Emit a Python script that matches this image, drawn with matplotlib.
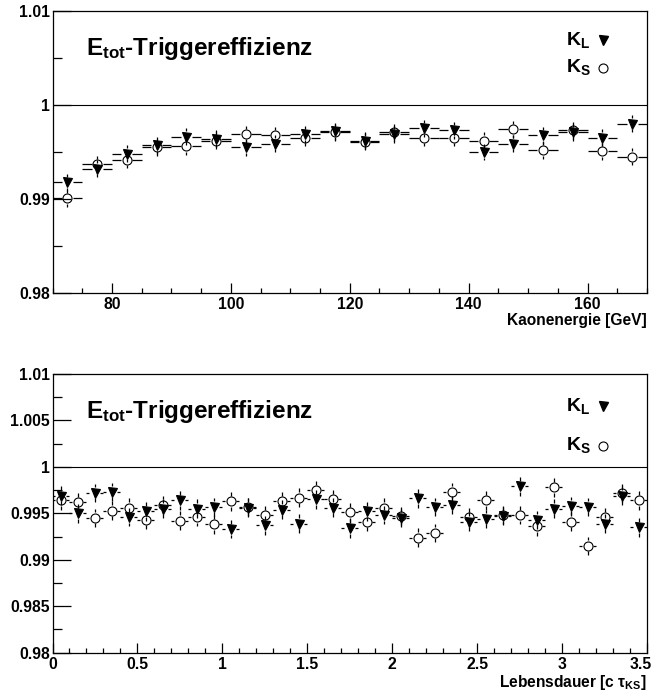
import matplotlib
matplotlib.use("Agg")
import matplotlib.pyplot as plt
from matplotlib.collections import LineCollection
from matplotlib.ticker import MultipleLocator, FuncFormatter
from matplotlib.transforms import ScaledTranslation, blended_transform_factory

plt.rcParams['font.family'] = ['Liberation Sans', 'DejaVu Sans']
plt.rcParams['font.weight'] = 'bold'
plt.rcParams['mathtext.fontset'] = 'custom'
plt.rcParams['mathtext.rm'] = 'Liberation Sans:bold'
plt.rcParams['mathtext.bf'] = 'Liberation Sans:bold'
plt.rcParams['mathtext.it'] = 'Liberation Sans:bold'
plt.rcParams['mathtext.sf'] = 'Liberation Sans:bold'

# ---- trigger efficiency vs. kaon energy (5 GeV bins) ----
energy = [72.5, 77.5, 82.5, 87.5, 92.5, 97.5, 102.5, 107.5, 112.5, 117.5,
          122.5, 127.5, 132.5, 137.5, 142.5, 147.5, 152.5, 157.5, 162.5, 167.5]
energy_halfwidth = 2.5
eff_kl_energy = [0.9918, 0.9932, 0.9948, 0.9957, 0.9966, 0.9964, 0.9955, 0.9959, 0.9969, 0.9972,
                 0.9962, 0.9969, 0.9975, 0.9973, 0.9950, 0.9959, 0.9968, 0.9971, 0.9965, 0.9980]
eff_ks_energy = [0.9901, 0.9937, 0.9942, 0.9955, 0.9956, 0.9962, 0.9969, 0.9968, 0.9965, 0.9971,
                 0.9961, 0.9971, 0.9965, 0.9965, 0.9962, 0.9974, 0.9952, 0.9973, 0.9951, 0.9945]
err_energy = 0.0009

# ---- trigger efficiency vs. lifetime (0.1 c tau_KS bins) ----
lifetime = [0.05, 0.15, 0.25, 0.35, 0.45, 0.55, 0.65, 0.75, 0.85, 0.95,
            1.05, 1.15, 1.25, 1.35, 1.45, 1.55, 1.65, 1.75, 1.85, 1.95,
            2.05, 2.15, 2.25, 2.35, 2.45, 2.55, 2.65, 2.75, 2.85, 2.95,
            3.05, 3.15, 3.25, 3.35, 3.45]
lifetime_halfwidth = 0.05
eff_kl_lifetime = [0.9969, 0.9950, 0.9972, 0.9973, 0.9946, 0.9952, 0.9955, 0.9964, 0.9955, 0.9957,
                   0.9933, 0.9956, 0.9937, 0.9954, 0.9939, 0.9965, 0.9956, 0.9934, 0.9952, 0.9948,
                   0.9945, 0.9966, 0.9957, 0.9959, 0.9941, 0.9944, 0.9947, 0.9979, 0.9943, 0.9955,
                   0.9958, 0.9957, 0.9939, 0.9969, 0.9935]
eff_ks_lifetime = [0.9964, 0.9962, 0.9945, 0.9953, 0.9956, 0.9943, 0.9959, 0.9942, 0.9946, 0.9938,
                   0.9963, 0.9957, 0.9948, 0.9963, 0.9967, 0.9975, 0.9965, 0.9951, 0.9941, 0.9956,
                   0.9947, 0.9924, 0.9929, 0.9973, 0.9946, 0.9964, 0.9948, 0.9948, 0.9936, 0.9978,
                   0.9941, 0.9915, 0.9946, 0.9972, 0.9964]
err_lifetime = 0.0010

title_text = r'$\mathbf{E}_{\mathbf{tot}}$-Triggereffizienz'
label_kl = r'$\mathbf{K}_{\mathbf{L}}$'
label_ks = r'$\mathbf{K}_{\mathbf{S}}$'

W, H, DPI = 655, 693, 100
fig = plt.figure(figsize=(W / DPI, H / DPI), dpi=DPI)

MS_PX = 9.0          # marker size in pixels
MS_PT = MS_PX * 72 / DPI
TICK_FS = 11.3
XPAD = 3


def make_axes(left, top, right, bottom):
    return fig.add_axes([left / W, 1 - bottom / H, (right - left) / W, (bottom - top) / H])


def draw_series(ax, x, y, xhw, yerr, marker, filled):
    x0, x1 = ax.get_xlim()
    y0, y1 = ax.get_ylim()
    pos = ax.get_position()
    px_x = pos.width * W / (x1 - x0)
    px_y = pos.height * H / (y1 - y0)
    gap = MS_PX / 2 + 1.0
    gx, gy = gap / px_x, gap / px_y
    segs = []
    for xi, yi in zip(x, y):
        if xhw > gx:
            segs.append([(xi - xhw, yi), (xi - gx, yi)])
            segs.append([(xi + gx, yi), (xi + xhw, yi)])
        segs.append([(xi, yi - yerr), (xi, yi - gy)])
        segs.append([(xi, yi + gy), (xi, yi + yerr)])
    ax.add_collection(LineCollection(segs, colors='black', linewidths=0.9, zorder=3))
    ax.plot(x, y, ls='none', marker=marker, ms=MS_PT,
            mfc='black' if filled else 'none', mec='black', mew=0.8, zorder=4)


def style_axes(ax, xlim, ylim, xmaj, xmin, ymaj, ymin, yfmt):
    ax.set_xlim(*xlim)
    ax.set_ylim(*ylim)
    ax.xaxis.set_major_locator(MultipleLocator(xmaj))
    ax.xaxis.set_minor_locator(MultipleLocator(xmin))
    ax.yaxis.set_major_locator(MultipleLocator(ymaj))
    ax.yaxis.set_minor_locator(MultipleLocator(ymin))
    ax.yaxis.set_major_formatter(FuncFormatter(yfmt))
    ax.tick_params(axis='both', which='both', direction='in', top=False, right=False,
                   width=0.9, labelsize=TICK_FS)
    ax.tick_params(axis='x', which='major', length=7.5, pad=XPAD)
    ax.tick_params(axis='x', which='minor', length=3.8)
    ax.tick_params(axis='y', which='major', length=13, pad=2)
    ax.tick_params(axis='y', which='minor', length=6.5)
    for sp in ax.spines.values():
        sp.set_linewidth(0.9)
    ax.axhline(1.0, color='black', lw=0.8, zorder=2)


def fmt_top(v, _):
    return {1.01: '1.01', 1.0: '1', 0.99: '0.99', 0.98: '0.98'}.get(round(v, 3), '')


def fmt_bottom(v, _):
    return f'{v:.3f}'.rstrip('0').rstrip('.')


def fmt_x_lifetime(v, _):
    if v > 3.49:
        return ''   # drawn separately, nudged inside the canvas
    s = f'{v:.1f}'
    return s[:-2] if s.endswith('.0') else s


def add_legend(ax, y_kl, y_ks):
    ax.text(0.863, y_kl, label_kl, transform=ax.transAxes, fontsize=14, ha='left', va='center')
    ax.text(0.863, y_ks, label_ks, transform=ax.transAxes, fontsize=14, ha='left', va='center')
    ax.plot([0.926], [y_kl], transform=ax.transAxes, marker='v', ms=MS_PT, color='black',
            ls='none', clip_on=False)
    ax.plot([0.926], [y_ks - 0.003], transform=ax.transAxes, marker='o', ms=MS_PT, mfc='none',
            mec='black', mew=0.8, ls='none', clip_on=False)


# ---- upper panel ----
ax1 = make_axes(52.5, 10.7, 647, 293.3)
style_axes(ax1, (70, 170), (0.98, 1.01), 20, 5, 0.01, 0.005, fmt_top)
draw_series(ax1, energy, eff_kl_energy, energy_halfwidth, err_energy, 'v', True)
draw_series(ax1, energy, eff_ks_energy, energy_halfwidth, err_energy, 'o', False)
ax1.text(0.056, 0.868, title_text, transform=ax1.transAxes, fontsize=17.5,
         fontweight='bold', ha='left', va='center')
add_legend(ax1, 0.895, 0.800)
ax1.set_xlabel('Kaonenergie [GeV]', fontsize=11.2, fontweight='bold', ha='right',
               va='center')
ax1.xaxis.set_label_coords(1.0, -0.095)

# ---- lower panel ----
ax2 = make_axes(52.5, 374, 647, 652.7)
style_axes(ax2, (0, 3.5), (0.98, 1.01), 0.5, 0.1, 0.005, 0.0025, fmt_bottom)
ax2.xaxis.set_major_formatter(FuncFormatter(fmt_x_lifetime))
draw_series(ax2, lifetime, eff_kl_lifetime, lifetime_halfwidth, err_lifetime, 'v', True)
draw_series(ax2, lifetime, eff_ks_lifetime, lifetime_halfwidth, err_lifetime, 'o', False)
ax2.text(0.056, 0.864, title_text, transform=ax2.transAxes, fontsize=17.5,
         fontweight='bold', ha='left', va='center')
add_legend(ax2, 0.885, 0.745)
ax2.set_xlabel(r'Lebensdauer [c $\tau_{\mathbf{KS}}$]', fontsize=11.2, fontweight='bold',
               ha='right', va='center')
ax2.xaxis.set_label_coords(1.0, -0.107)

# last lifetime tick label, kept inside the canvas
edge_tr = blended_transform_factory(ax2.transData, ax2.transAxes)
ax2.text(3.5, 0, '3.5', fontsize=TICK_FS, fontweight='bold', ha='center', va='top',
         transform=edge_tr + ScaledTranslation(-6 / DPI, -XPAD / 72, fig.dpi_scale_trans))

fig.savefig('out.png', dpi=DPI)
